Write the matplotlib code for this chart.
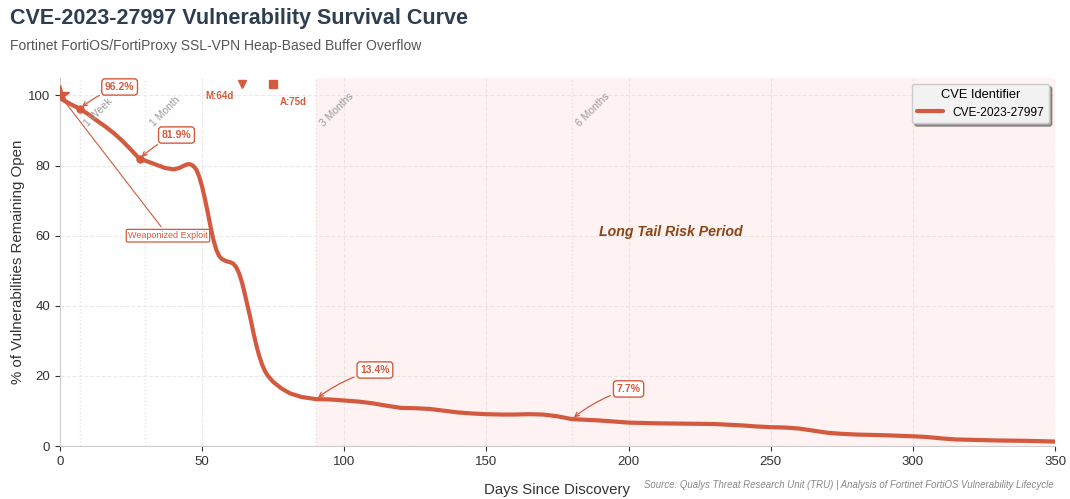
import numpy as np
import matplotlib
matplotlib.use('Agg')
import matplotlib.pyplot as plt

plt.rcParams['font.family'] = ['Liberation Sans', 'DejaVu Sans']

days = [0, 2, 4, 7, 10, 13, 16, 19, 22, 25, 28, 31, 34, 37, 40, 42, 44, 45, 46, 47,
        48, 49, 50, 51, 52, 53, 54, 55, 56, 57, 58, 59, 60, 61, 62, 63, 64, 65, 66,
        67, 68, 69, 70, 71, 72, 73, 75, 78, 81, 85, 90, 95, 100, 105,
        110, 115, 120, 125, 130, 135, 140, 145, 150, 155, 160, 165, 170, 175, 180, 185,
        190, 195, 200, 210, 220, 230, 240, 245, 250, 255, 260, 265, 270, 275, 280, 290,
        300, 305, 310, 315, 320, 330, 340, 350]
pct_open = [99.2, 98.3, 97.4, 96.2, 94.6, 92.8, 91.1, 89.2, 87.0, 84.5, 81.9, 81.1,
            80.2, 79.3, 78.9, 79.3, 80.1, 80.4, 80.3, 79.8,
            78.8, 76.8, 74.0, 70.5, 66.6, 62.5, 58.8, 56.0, 54.2, 53.3, 52.9, 52.6,
            52.4, 52.0, 51.0, 49.3, 46.8, 43.5, 40.0, 36.5, 32.6, 29.0, 26.0, 23.5,
            21.6, 20.2, 18.3, 16.4, 15.0, 14.0, 13.4,
            13.3, 13.0, 12.7, 12.2, 11.5, 10.9, 10.8, 10.6, 10.1, 9.6, 9.3, 9.1, 9.0,
            9.0, 9.1, 9.0, 8.5, 7.7, 7.5, 7.3, 7.0, 6.7, 6.5, 6.4, 6.3, 5.9, 5.6, 5.4,
            5.3, 5.0, 4.4, 3.8, 3.5, 3.3, 3.1, 2.8, 2.6, 2.2, 1.9, 1.8, 1.6, 1.5, 1.3]

milestone_days = [7, 30, 90, 180]
milestone_labels = ['1 Week', '1 Month', '3 Months', '6 Months']

callout_days = [7, 28, 90, 180]
callout_offsets = [(21, 102.4), (41, 88.7), (110.8, 21.7), (200, 16.3)]

event_days = [64, 75]
event_labels = ['M:64d', 'A:75d']

c = '#d35a3e'
fig = plt.figure(figsize=(10.7, 4.99), dpi=100)
ax = fig.add_axes([0.056, 0.106, 0.93, 0.738])

ax.axvspan(90, 350, color='#fff2f2', zorder=0)
ax.grid(True, linestyle='--', color='#dddddd', alpha=0.6, linewidth=0.8)
ax.set_axisbelow(True)

ax.plot(days, pct_open, color=c, linewidth=3, solid_joinstyle='round',
        solid_capstyle='round', label='CVE-2023-27997', zorder=3)

for d, lab in zip(milestone_days, milestone_labels):
    ax.axvline(d, color='#e6e6e6', linestyle=':', linewidth=1, zorder=1)
    ax.text(d + 1, 90.5, lab, rotation=45, color='#999999', fontsize=7.5,
            ha='left', va='bottom')

# start marker
ax.plot(0, 100, marker='*', markersize=14, color=c, zorder=4)

for d, (tx, ty) in zip(callout_days, callout_offsets):
    v = pct_open[days.index(d)]
    if d in (7, 28):
        ax.plot(d, v, 'o', color=c, markersize=5, zorder=4)
    ax.annotate(f'{v:.1f}%', xy=(d, v), xytext=(tx, ty), fontsize=7.5,
                fontweight='bold', color=c, ha='center', va='center',
                bbox=dict(boxstyle='round,pad=0.3', fc='white', ec=c, lw=1),
                arrowprops=dict(arrowstyle='->', color=c, lw=0.9,
                                connectionstyle='arc3,rad=0.1'), zorder=5)

ax.annotate('Weaponized Exploit', xy=(0, 100), xytext=(38, 60), fontsize=6.5,
            color=c, ha='center', va='center',
            bbox=dict(boxstyle='round,pad=0.2,rounding_size=0.15', fc='white', ec=c, lw=0.9),
            arrowprops=dict(arrowstyle='-', color=c, lw=0.8), zorder=2)

ax.plot(event_days[0], 103.3, marker='v', markersize=6, color=c, clip_on=False)
ax.plot(event_days[1], 103.3, marker='s', markersize=6, color=c, clip_on=False)
ax.text(56, 99.9, event_labels[0], fontsize=7, fontweight='bold', color=c,
        ha='center', va='center')
ax.text(82, 98.0, event_labels[1], fontsize=7, fontweight='bold', color=c,
        ha='center', va='center')

ax.text(215, 61, 'Long Tail Risk Period', fontsize=10.2, fontweight='bold',
        fontstyle='italic', color='#8b4513', ha='center', va='center')

ax.set_xlim(0, 350)
ax.set_ylim(0, 105)
ax.set_xlabel('Days Since Discovery', fontsize=10.8, color='#333333', labelpad=11)
ax.set_ylabel('% of Vulnerabilities Remaining Open', fontsize=10.8, color='#333333',
              labelpad=2)
ax.tick_params(labelsize=9.5, colors='#333333')
for s in ['top', 'right']:
    ax.spines[s].set_visible(False)
for s in ['left', 'bottom']:
    ax.spines[s].set_color('#cccccc')

leg = ax.legend(title='CVE Identifier', loc='upper right', fontsize=8.6,
                title_fontsize=9.3, shadow=True, facecolor='#f2f2f2',
                edgecolor='#cccccc', framealpha=1, handlelength=2.2)

fig.text(0.009, 0.962, 'CVE-2023-27997 Vulnerability Survival Curve', fontsize=15.5,
         fontweight='bold', color='#2c3e50', ha='left', va='center')
fig.text(0.009, 0.908, 'Fortinet FortiOS/FortiProxy SSL-VPN Heap-Based Buffer Overflow',
         fontsize=10, color='#555555', ha='left', va='center')
fig.text(0.985, 0.028, 'Source: Qualys Threat Research Unit (TRU) | Analysis of Fortinet '
         'FortiOS Vulnerability Lifecycle', fontsize=6.9, fontstyle='italic',
         color='#888888', ha='right', va='center')

fig.savefig('out.png', dpi=100)
